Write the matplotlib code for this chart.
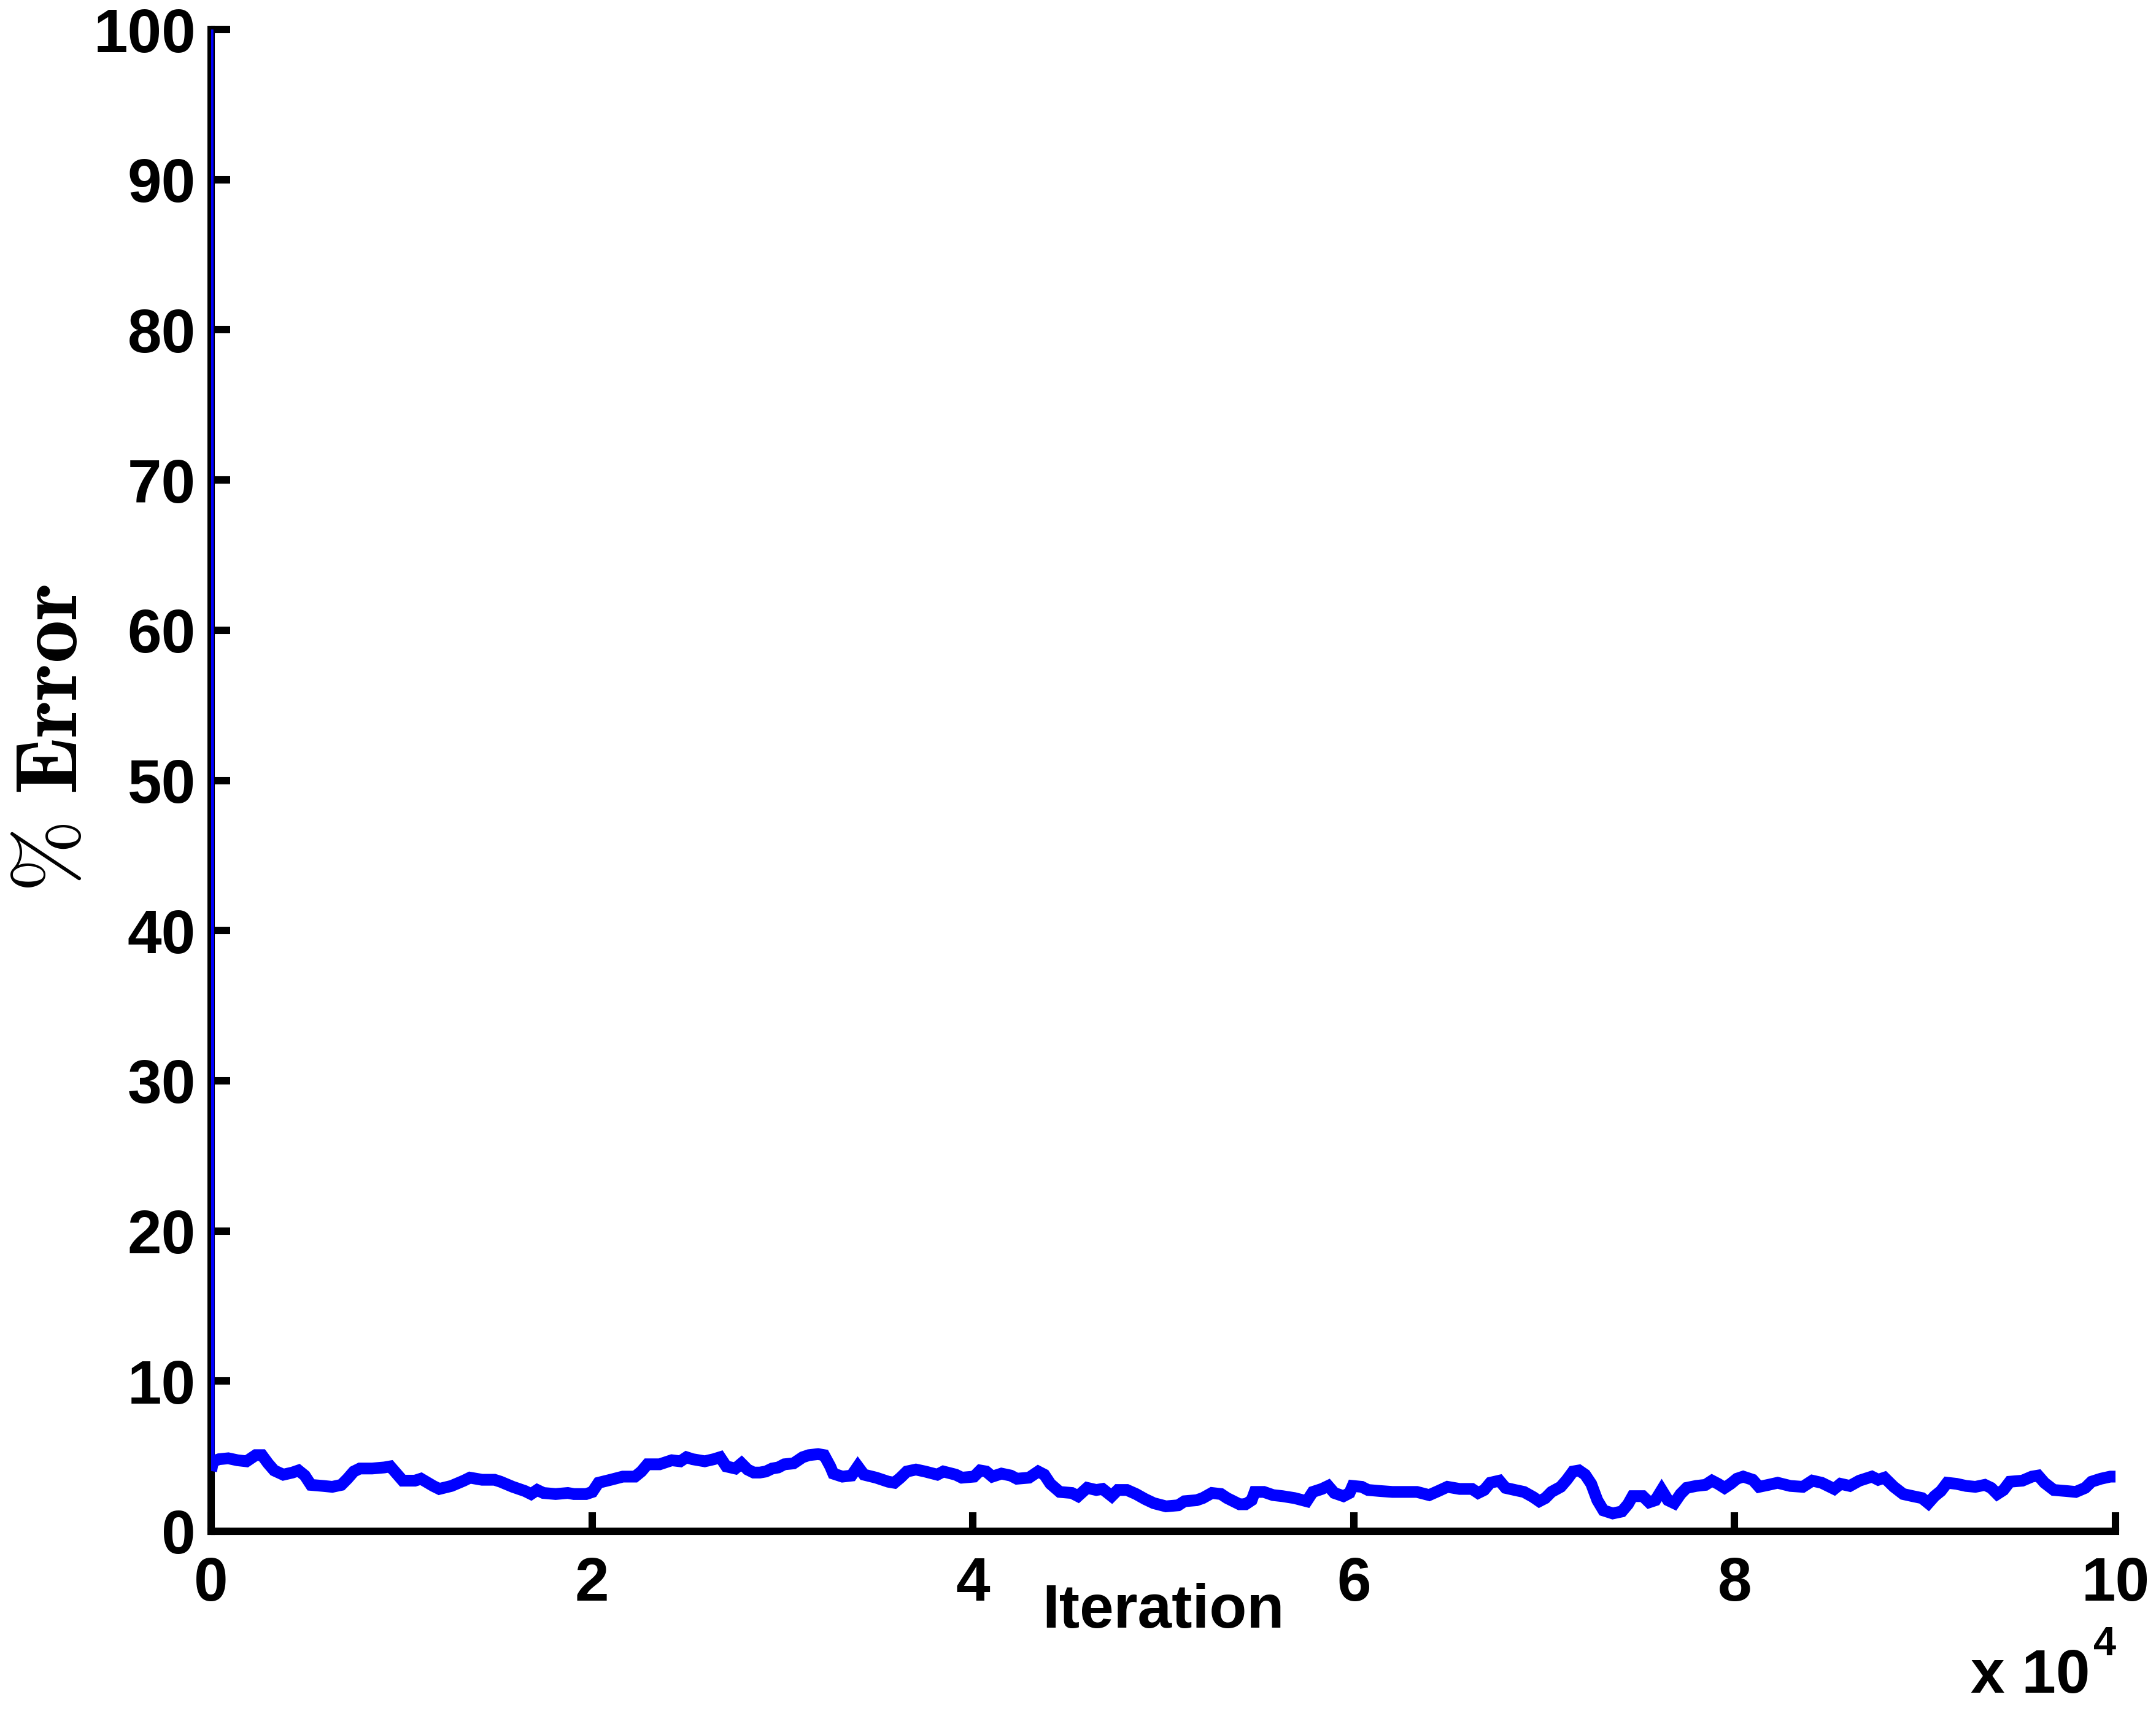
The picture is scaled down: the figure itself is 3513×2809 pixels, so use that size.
import numpy as np
import matplotlib
matplotlib.use("Agg")
import matplotlib.pyplot as plt

# Iteration (in units of 10^4) and % error
iteration_e4 = [
    0.000, 0.006, 0.010, 0.042, 0.090, 0.138, 0.186, 0.234, 0.267, 0.299, 0.331,
    0.379, 0.427, 0.459, 0.492, 0.524, 0.588, 0.636, 0.684, 0.716, 0.749,
    0.781, 0.845, 0.909, 0.941, 0.974, 1.006, 1.070, 1.102, 1.166, 1.198,
    1.262, 1.327, 1.359, 1.423, 1.488, 1.520, 1.584, 1.648, 1.680, 1.712,
    1.745, 1.809, 1.873, 1.905, 1.969, 2.002, 2.034, 2.098, 2.162, 2.226,
    2.259, 2.291, 2.355, 2.419,
    2.464, 2.496, 2.528, 2.592, 2.640, 2.673, 2.705, 2.753, 2.785, 2.817,
    2.849, 2.881, 2.913, 2.946, 2.978, 3.010, 3.058, 3.106, 3.139, 3.187,
    3.219, 3.251, 3.267, 3.315, 3.363, 3.396, 3.428, 3.492, 3.556, 3.588,
    3.620, 3.653, 3.701, 3.749, 3.813, 3.845, 3.910, 3.942, 4.006, 4.038,
    4.070, 4.102, 4.150, 4.199, 4.231, 4.295, 4.343, 4.375, 4.407, 4.456,
    4.520, 4.552, 4.600, 4.648, 4.681, 4.729, 4.761, 4.809, 4.857, 4.905,
    4.950, 5.014, 5.078, 5.111, 5.175, 5.207, 5.255, 5.303, 5.335, 5.368,
    5.400, 5.432, 5.464, 5.480, 5.528, 5.576, 5.625, 5.689, 5.753, 5.785,
    5.833, 5.866, 5.898, 5.946, 5.978, 5.994, 6.042, 6.075, 6.139, 6.203,
    6.267, 6.332, 6.396, 6.444, 6.492, 6.556, 6.621, 6.653, 6.685, 6.717,
    6.765, 6.797, 6.846, 6.894, 6.942, 6.974, 7.006, 7.038, 7.087, 7.119,
    7.151, 7.183, 7.215, 7.247, 7.279, 7.311, 7.360, 7.408, 7.440, 7.464,
    7.518, 7.551, 7.584, 7.617, 7.650, 7.683, 7.716, 7.748, 7.798, 7.847,
    7.881, 7.913, 7.947, 7.979, 8.012, 8.045, 8.095, 8.128, 8.177, 8.226,
    8.292, 8.358, 8.408, 8.457, 8.523, 8.556, 8.605, 8.655, 8.721, 8.754,
    8.787, 8.836, 8.885, 8.935, 8.984, 9.017, 9.050, 9.083, 9.116, 9.165,
    9.215, 9.264, 9.314, 9.347, 9.379, 9.412, 9.445, 9.511, 9.561, 9.594,
    9.627, 9.676, 9.742, 9.791, 9.841, 9.874, 9.923, 9.973, 10.000,
]
error_pct = [
    100.0, 4.40, 4.66, 4.80, 4.86, 4.73, 4.66, 5.07, 5.07, 4.52, 4.05,
    3.77, 3.91, 4.05, 3.71, 3.09, 3.02, 2.96, 3.09, 3.50, 3.98,
    4.18, 4.18, 4.25, 4.32, 3.84, 3.37, 3.37, 3.50, 3.02, 2.82,
    3.02, 3.37, 3.57, 3.43, 3.43, 3.30, 2.96, 2.68, 2.48, 2.75,
    2.55, 2.48, 2.55, 2.48, 2.48, 2.62, 3.23, 3.43, 3.64, 3.64,
    3.98, 4.46, 4.46, 4.73,
    4.66, 4.93, 4.80, 4.66, 4.80, 4.93, 4.32, 4.18, 4.52, 4.11,
    3.91, 3.91, 3.98, 4.18, 4.25, 4.46, 4.52, 4.93, 5.07, 5.14,
    5.07, 4.32, 3.84, 3.64, 3.71, 4.32, 3.77, 3.57, 3.30, 3.23,
    3.57, 3.98, 4.11, 3.98, 3.77, 3.98, 3.77, 3.57, 3.64, 4.05,
    3.98, 3.64, 3.84, 3.71, 3.50, 3.57, 3.98, 3.77, 3.16, 2.62,
    2.55, 2.34, 2.89, 2.75, 2.82, 2.34, 2.75, 2.75, 2.48, 2.14,
    1.87, 1.66, 1.73, 2.00, 2.07, 2.21, 2.55, 2.48, 2.21, 2.00,
    1.80, 1.80, 2.07, 2.62, 2.62, 2.41, 2.34, 2.21, 2.00, 2.62,
    2.82, 3.02, 2.55, 2.34, 2.55, 3.02, 2.96, 2.75, 2.68, 2.62,
    2.62, 2.62, 2.41, 2.68, 2.96, 2.82, 2.82, 2.55, 2.75, 3.23,
    3.37, 2.89, 2.75, 2.62, 2.28, 2.00, 2.21, 2.62, 2.96, 3.43,
    3.98, 4.05, 3.77, 3.16, 2.07, 1.39, 1.19, 1.32, 1.80, 2.34,
    2.34, 1.93, 2.07, 2.75, 2.07, 1.87, 2.48, 2.89, 3.02, 3.09,
    3.37, 3.16, 2.89, 3.16, 3.50, 3.64, 3.43, 2.96, 3.09, 3.23,
    3.02, 2.96, 3.37, 3.23, 2.82, 3.16, 3.02, 3.37, 3.64, 3.43,
    3.57, 2.96, 2.48, 2.34, 2.21, 1.87, 2.34, 2.68, 3.23, 3.16,
    3.02, 2.96, 3.09, 2.89, 2.48, 2.75, 3.30, 3.37, 3.64, 3.71,
    3.23, 2.75, 2.68, 2.62, 2.89, 3.30, 3.50, 3.64, 3.64,
]
x_ticks = [0, 2, 4, 6, 8, 10]
y_ticks = [0, 10, 20, 30, 40, 50, 60, 70, 80, 90, 100]

plt.rcParams['font.family'] = ['Liberation Sans', 'DejaVu Sans']
plt.rcParams['font.weight'] = 'bold'

W, H, DPI = 3513, 2809, 300
fig = plt.figure(figsize=(W / DPI, H / DPI), dpi=DPI)
L, R, T, B = 344, 3447, 48, 2495
ax = fig.add_axes([L / W, 1 - B / H, (R - L) / W, (B - T) / H])

x = np.array(iteration_e4)
y = np.array(error_pct)
ax.plot(x[:2], y[:2], color='#0000ff', lw=1.8, zorder=3, solid_capstyle='butt')
ax.plot(x[1:], y[1:], color='#0000ff', lw=4.6, zorder=3, solid_joinstyle='miter')

ax.set_xlim(0, 10)
ax.set_ylim(0, 100)
ax.set_xticks(x_ticks)
ax.set_yticks(y_ticks)
ax.set_xticklabels([str(v) for v in x_ticks])
ax.set_yticklabels([str(v) for v in y_ticks])

for s in ['top', 'right']:
    ax.spines[s].set_visible(False)
for s in ['left', 'bottom']:
    ax.spines[s].set_linewidth(2.9)
    ax.spines[s].set_capstyle('projecting')
ax.tick_params(direction='in', length=7.5, width=2.9, labelsize=24, pad=6)
ax.tick_params(axis='x', pad=9.5)
for lab in ax.get_xticklabels() + ax.get_yticklabels():
    lab.set_fontweight('bold')

fig.text(1895 / W, 1 - 2652 / H, 'Iteration', ha='center', va='baseline',
         fontsize=24, fontweight='bold')
fig.text(0.025, 1 - 1203 / H, r'$\mathbf{\%\ Error}$', rotation=90,
         ha='center', va='center', fontsize=34, math_fontfamily='cm')
fig.text(3405 / W, 1 - 2758 / H, 'x 10', ha='right', va='baseline',
         fontsize=24, fontweight='bold')
fig.text(3411 / W, 1 - 2697 / H, '4', ha='left', va='baseline',
         fontsize=16, fontweight='bold')

fig.savefig('out.png', dpi=DPI, facecolor='white')
